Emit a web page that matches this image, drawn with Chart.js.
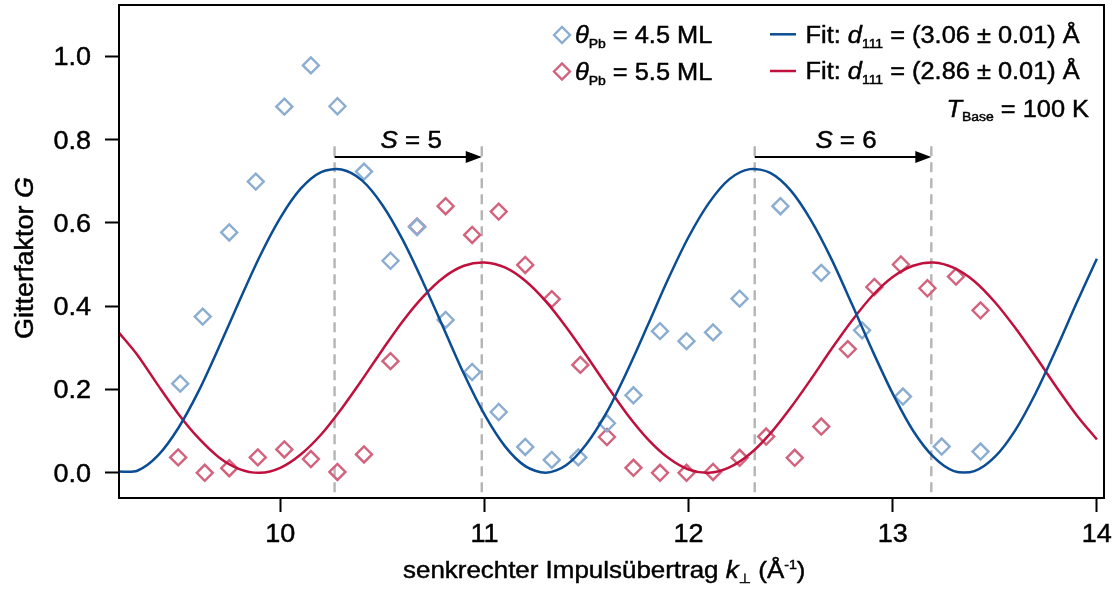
<!DOCTYPE html>
<html lang="de">
<head>
<meta charset="UTF-8">
<title>Gitterfaktor</title>
<script src="https://cdn.jsdelivr.net/npm/chart.js@4"></script>
<style>
    html, body { margin: 0; padding: 0; background: #fff; }
    #wrap { position: relative; width: 1117px; height: 590px; }
</style>
</head>
<body>
<div id="wrap"><canvas id="chart"></canvas></div>
<script>
    // fit curves, every 0.1 1/Å
    const fitK = [9.2, 9.3, 9.4, 9.5, 9.6, 9.7, 9.8, 9.9, 10.0, 10.1, 10.2, 10.3, 10.4, 10.5, 10.6, 10.7, 10.8, 10.9,
        11.0, 11.1, 11.2, 11.3, 11.4, 11.5, 11.6, 11.7, 11.8, 11.9, 12.0, 12.1, 12.2, 12.3, 12.4, 12.5, 12.6, 12.7, 12.8,
        12.9, 13.0, 13.1, 13.2, 13.3, 13.4, 13.5, 13.6, 13.7, 13.8, 13.9, 14.0];
    const fitBlue = [0.003, 0.005, 0.041, 0.107, 0.196, 0.302, 0.413, 0.520, 0.612, 0.682, 0.722, 0.728, 0.702, 0.643,
        0.559, 0.457, 0.347, 0.237, 0.140, 0.064, 0.016, 0.000, 0.018, 0.069, 0.146, 0.245, 0.354, 0.465, 0.566, 0.648,
        0.705, 0.729, 0.720, 0.678, 0.606, 0.513, 0.405, 0.294, 0.190, 0.101, 0.038, 0.004, 0.004, 0.038, 0.102, 0.191,
        0.296, 0.407, 0.514];
    const fitRed = [0.342, 0.283, 0.211, 0.142, 0.083, 0.037, 0.009, 0.000, 0.012, 0.044, 0.092, 0.154, 0.223, 0.295,
        0.364, 0.423, 0.469, 0.497, 0.505, 0.493, 0.461, 0.412, 0.350, 0.281, 0.209, 0.140, 0.081, 0.036, 0.008, 0.000,
        0.013, 0.045, 0.094, 0.156, 0.225, 0.297, 0.365, 0.425, 0.470, 0.497, 0.505, 0.492, 0.460, 0.410, 0.348, 0.279,
        0.207, 0.139, 0.080];

    // measured points
    const blueK = [9.51, 9.62, 9.75, 9.88, 10.02, 10.15, 10.28, 10.41, 10.54, 10.67, 10.81, 10.94, 11.07, 11.20, 11.33,
        11.46, 11.60, 11.73, 11.86, 11.99, 12.12, 12.25, 12.45, 12.65, 12.85, 13.05, 13.24, 13.43];
    const blueG = [0.214, 0.375, 0.577, 0.699, 0.879, 0.978, 0.880, 0.723, 0.509, 0.590, 0.367, 0.242, 0.146, 0.062,
        0.031, 0.037, 0.119, 0.186, 0.340, 0.316, 0.337, 0.418, 0.640, 0.480, 0.342, 0.183, 0.063, 0.051];
    const redK = [9.50, 9.63, 9.75, 9.89, 10.02, 10.15, 10.28, 10.41, 10.54, 10.67, 10.81, 10.94, 11.07, 11.20, 11.33,
        11.47, 11.60, 11.73, 11.86, 11.99, 12.12, 12.25, 12.38, 12.52, 12.65, 12.78, 12.91, 13.04, 13.17, 13.31, 13.43];
    const redG = [0.037, 0.000, 0.011, 0.037, 0.056, 0.033, 0.002, 0.044, 0.268, 0.591, 0.640, 0.571, 0.627, 0.499,
        0.417, 0.259, 0.086, 0.012, 0.000, 0.000, 0.002, 0.036, 0.087, 0.036, 0.111, 0.297, 0.446, 0.500, 0.443, 0.471,
        0.390];

    const xTicks = [10, 11, 12, 13, 14];
    const yTicks = [0.0, 0.2, 0.4, 0.6, 0.8, 1.0];

    // S markers: dashed lines at the fit maxima, arrow between them
    const stepFrom = [10.266, 12.324];
    const stepTo = [10.987, 13.189];
    const stepLabels = ['5', '6'];
    const stepArrowY = 0.758;
    const stepTopY = 0.784;

    const BLUE_PT = '#8aadd1';
    const RED_PT = '#d3637d';
    const BLUE_LN = '#0b4d94';
    const RED_LN = '#c0103d';
    const FONT = '"Liberation Sans", Arial, "DejaVu Sans", sans-serif';
    const SX = 1.08; // text in the picture is drawn wide

    function richText(ctx, parts, x, y, size, align) {
        let total = 0;
        const fonts = parts.map(p => {
            const s = (p.sub || p.sup) ? size * 0.55 : size;
            const f = (p.i ? 'italic ' : '') + s + 'px ' + FONT;
            ctx.font = f;
            const w = ctx.measureText(p.t).width;
            total += w;
            return { f, w };
        });
        let x0 = x;
        if (align === 'right') x0 = x - total * SX;
        if (align === 'center') x0 = x - total * SX / 2;
        ctx.save();
        ctx.translate(x0, y);
        ctx.scale(SX, 1);
        ctx.textBaseline = 'alphabetic';
        ctx.textAlign = 'left';
        ctx.fillStyle = '#000';
        ctx.strokeStyle = '#000';
        ctx.lineWidth = 0.45;
        let cx = 0;
        parts.forEach((p, i) => {
            ctx.font = fonts[i].f;
            const dy = p.sub ? size * 0.2 : p.sup ? -size * 0.38 : 0;
            ctx.fillText(p.t, cx, dy);
            ctx.strokeText(p.t, cx, dy);
            cx += fonts[i].w;
        });
        ctx.restore();
    }

    function diamond(ctx, x, y, r, color) {
        ctx.save();
        ctx.strokeStyle = color;
        ctx.lineWidth = 2.4;
        ctx.beginPath();
        ctx.moveTo(x - r, y);
        ctx.lineTo(x, y - r);
        ctx.lineTo(x + r, y);
        ctx.lineTo(x, y + r);
        ctx.closePath();
        ctx.stroke();
        ctx.restore();
    }

    const decor = {
        id: 'decor',
        beforeDatasetsDraw(chart) {
            const { ctx, chartArea: a, scales: { x, y } } = chart;
            ctx.save();
            ctx.strokeStyle = '#b5b5b5';
            ctx.lineWidth = 2.4;
            ctx.setLineDash([10, 6]);
            [...stepFrom, ...stepTo].forEach(k => {
                const px = x.getPixelForValue(k);
                ctx.beginPath();
                ctx.moveTo(px, y.getPixelForValue(stepTopY));
                ctx.lineTo(px, a.bottom);
                ctx.stroke();
            });
            ctx.restore();
        },
        afterDraw(chart) {
            const { ctx, chartArea: a, scales: { x, y } } = chart;

            // arrows with S labels
            ctx.save();
            ctx.strokeStyle = '#000';
            ctx.fillStyle = '#000';
            ctx.lineWidth = 2;
            stepFrom.forEach((k, i) => {
                const x1 = x.getPixelForValue(k);
                const x2 = x.getPixelForValue(stepTo[i]);
                const py = y.getPixelForValue(stepArrowY);
                ctx.beginPath();
                ctx.moveTo(x1, py);
                ctx.lineTo(x2 - 12, py);
                ctx.stroke();
                ctx.beginPath();
                ctx.moveTo(x2, py);
                ctx.lineTo(x2 - 16, py - 6);
                ctx.lineTo(x2 - 16, py + 6);
                ctx.closePath();
                ctx.fill();
                richText(ctx, [{ t: 'S', i: true }, { t: ' = ' + stepLabels[i] }], (x1 + x2) / 2 + 3, py - 9, 24, 'center');
            });
            ctx.restore();

            // frame
            ctx.save();
            ctx.strokeStyle = '#000';
            ctx.lineWidth = 2;
            ctx.strokeRect(a.left, a.top, a.right - a.left, a.bottom - a.top);
            ctx.restore();

            // tick labels
            xTicks.forEach(v => {
                richText(ctx, [{ t: String(v) }], x.getPixelForValue(v), 541.5, 25, 'center');
            });
            yTicks.forEach(v => {
                richText(ctx, [{ t: v.toFixed(1) }], 91, y.getPixelForValue(v) + 9, 25, 'right');
            });

            // axis titles
            richText(ctx, [
                { t: 'senkrechter Impulsübertrag ' }, { t: 'k', i: true }, { t: '⊥', sub: true },
                { t: ' (Å' }, { t: '-1', sup: true }, { t: ')' }
            ], 403, 578, 24, 'left');
            ctx.save();
            ctx.translate(32.5, 258);
            ctx.rotate(-Math.PI / 2);
            richText(ctx, [{ t: 'Gitterfaktor ' }, { t: 'G', i: true }], 0, 0, 25, 'center');
            ctx.restore();

            // legend
            diamond(ctx, 562, 35, 8, BLUE_PT);
            diamond(ctx, 562, 71.5, 8, RED_PT);
            richText(ctx, [{ t: 'θ', i: true }, { t: 'Pb', sub: true }, { t: ' = 4.5 ML' }], 575, 43.3, 23.5, 'left');
            richText(ctx, [{ t: 'θ', i: true }, { t: 'Pb', sub: true }, { t: ' = 5.5 ML' }], 575, 79.8, 23.5, 'left');
            ctx.save();
            ctx.lineWidth = 2.5;
            ctx.strokeStyle = BLUE_LN;
            ctx.beginPath(); ctx.moveTo(770, 34.3); ctx.lineTo(796, 34.3); ctx.stroke();
            ctx.strokeStyle = RED_LN;
            ctx.beginPath(); ctx.moveTo(770, 71); ctx.lineTo(796, 71); ctx.stroke();
            ctx.restore();
            richText(ctx, [{ t: 'Fit: ' }, { t: 'd', i: true }, { t: '111', sub: true }, { t: ' = (3.06 ± 0.01) Å' }], 805.5, 42.8, 23.5, 'left');
            richText(ctx, [{ t: 'Fit: ' }, { t: 'd', i: true }, { t: '111', sub: true }, { t: ' = (2.86 ± 0.01) Å' }], 805.5, 79.3, 23.5, 'left');
            richText(ctx, [{ t: 'T', i: true }, { t: 'Base', sub: true }, { t: ' = 100 K' }], 1089, 116.5, 23.5, 'right');
        }
    };

    const toXY = (ks, gs) => ks.map((k, i) => ({ x: k, y: gs[i] }));

    const axis = (min, max, ticks, fit) => ({
        type: 'linear',
        min: min,
        max: max,
        grid: { drawOnChartArea: false, drawTicks: true, tickLength: 14, tickWidth: 2, tickColor: '#000' },
        border: { display: false },
        ticks: { display: false },
        afterBuildTicks: s => { s.ticks = ticks.map(v => ({ value: v })); },
        afterFit: fit
    });

    new Chart(document.getElementById('chart'), {
        type: 'scatter',
        data: {
            datasets: [
                {
                    type: 'line', data: toXY(fitK, fitBlue), borderColor: BLUE_LN, borderWidth: 2.5,
                    pointRadius: 0, tension: 0.3, fill: false, order: 0
                },
                {
                    type: 'line', data: toXY(fitK, fitRed), borderColor: RED_LN, borderWidth: 2.5,
                    pointRadius: 0, tension: 0.3, fill: false, order: 0
                },
                {
                    data: toXY(blueK, blueG), pointStyle: 'rectRot', pointRadius: 8, borderWidth: 2.4,
                    borderColor: BLUE_PT, backgroundColor: 'rgba(0,0,0,0)', order: 1
                },
                {
                    data: toXY(redK, redG), pointStyle: 'rectRot', pointRadius: 8, borderWidth: 2.4,
                    borderColor: RED_PT, backgroundColor: 'rgba(0,0,0,0)', order: 1
                }
            ]
        },
        options: {
            responsive: true,
            maintainAspectRatio: false,
            animation: false,
            layout: { autoPadding: false, padding: { top: 5, right: 13, left: 0, bottom: 0 } },
            plugins: { legend: { display: false }, tooltip: { enabled: false } },
            scales: {
                x: axis(9.21, 14.035, xTicks, s => { s.height = 92; }),
                y: axis(-0.0605, 1.123, yTicks, s => { s.width = 119; })
            }
        },
        plugins: [decor]
    });
</script>
</body>
</html>
